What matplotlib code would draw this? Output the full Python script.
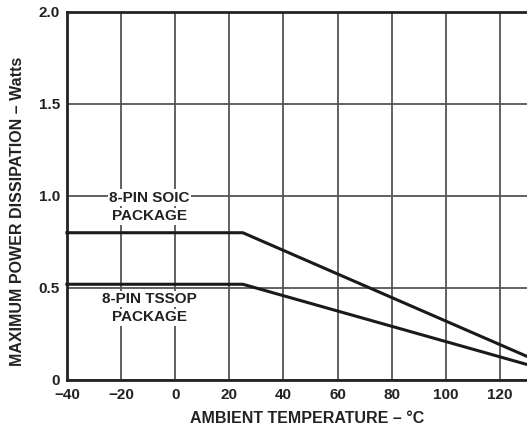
import numpy as np
import matplotlib.pyplot as plt

plt.rcParams['font.family'] = ['Liberation Sans', 'DejaVu Sans']
plt.rcParams['font.weight'] = 'bold'

# derating curves (ambient temp in C, max power in W)
temp = [-40, 25, 130]
soic_power = [0.80, 0.80, 0.128]
tssop_power = [0.52, 0.52, 0.084]

x_ticks = [-40, -20, 0, 20, 40, 60, 80, 100, 120]
y_ticks = [0, 0.5, 1.0, 1.5, 2.0]
y_labels = ['0', '0.5', '1.0', '1.5', '2.0']

fig = plt.figure(figsize=(5.27, 4.25), dpi=100)
ax = fig.add_axes([0.127, 0.106, 0.873, 0.866])

ax.plot(temp, soic_power, color='#1a1a1a', lw=2.2, zorder=3, clip_on=False)
ax.plot(temp, tssop_power, color='#1a1a1a', lw=2.2, zorder=3, clip_on=False)

ax.set_xlim(-40, 130)
ax.set_ylim(0, 2.0)
ax.set_xticks(x_ticks)
ax.set_yticks(y_ticks)
ax.set_yticklabels(y_labels)
ax.tick_params(length=0, labelsize=11, colors='#222222')
ax.tick_params(axis='x', pad=6)
ax.tick_params(axis='y', pad=5)
ax.grid(True, color='#555555', lw=1.3)
ax.set_axisbelow(True)

for s in ['left', 'bottom', 'top']:
    ax.spines[s].set_linewidth(2)
    ax.spines[s].set_color('#222222')
ax.spines['right'].set_visible(False)

bbox = dict(facecolor='white', edgecolor='none', pad=1)
lbl = dict(ha='center', va='center', fontsize=11, fontweight='bold',
           color='#222222', bbox=bbox)
ax.text(-9.5, 0.99, '8-PIN SOIC', **lbl)
ax.text(-9.5, 0.89, 'PACKAGE', **lbl)
ax.text(-9.5, 0.44, '8-PIN TSSOP', **lbl)
ax.text(-9.5, 0.34, 'PACKAGE', **lbl)

ax.set_xlabel('AMBIENT TEMPERATURE – °C', fontsize=11.5, fontweight='bold',
              color='#222222')
ax.set_ylabel('MAXIMUM POWER DISSIPATION – Watts', fontsize=11.5,
              fontweight='bold', color='#222222')
ax.xaxis.set_label_coords(0.522, -0.084)
ax.yaxis.set_label_coords(-0.091, 0.457)

fig.savefig('out.png', dpi=100)
